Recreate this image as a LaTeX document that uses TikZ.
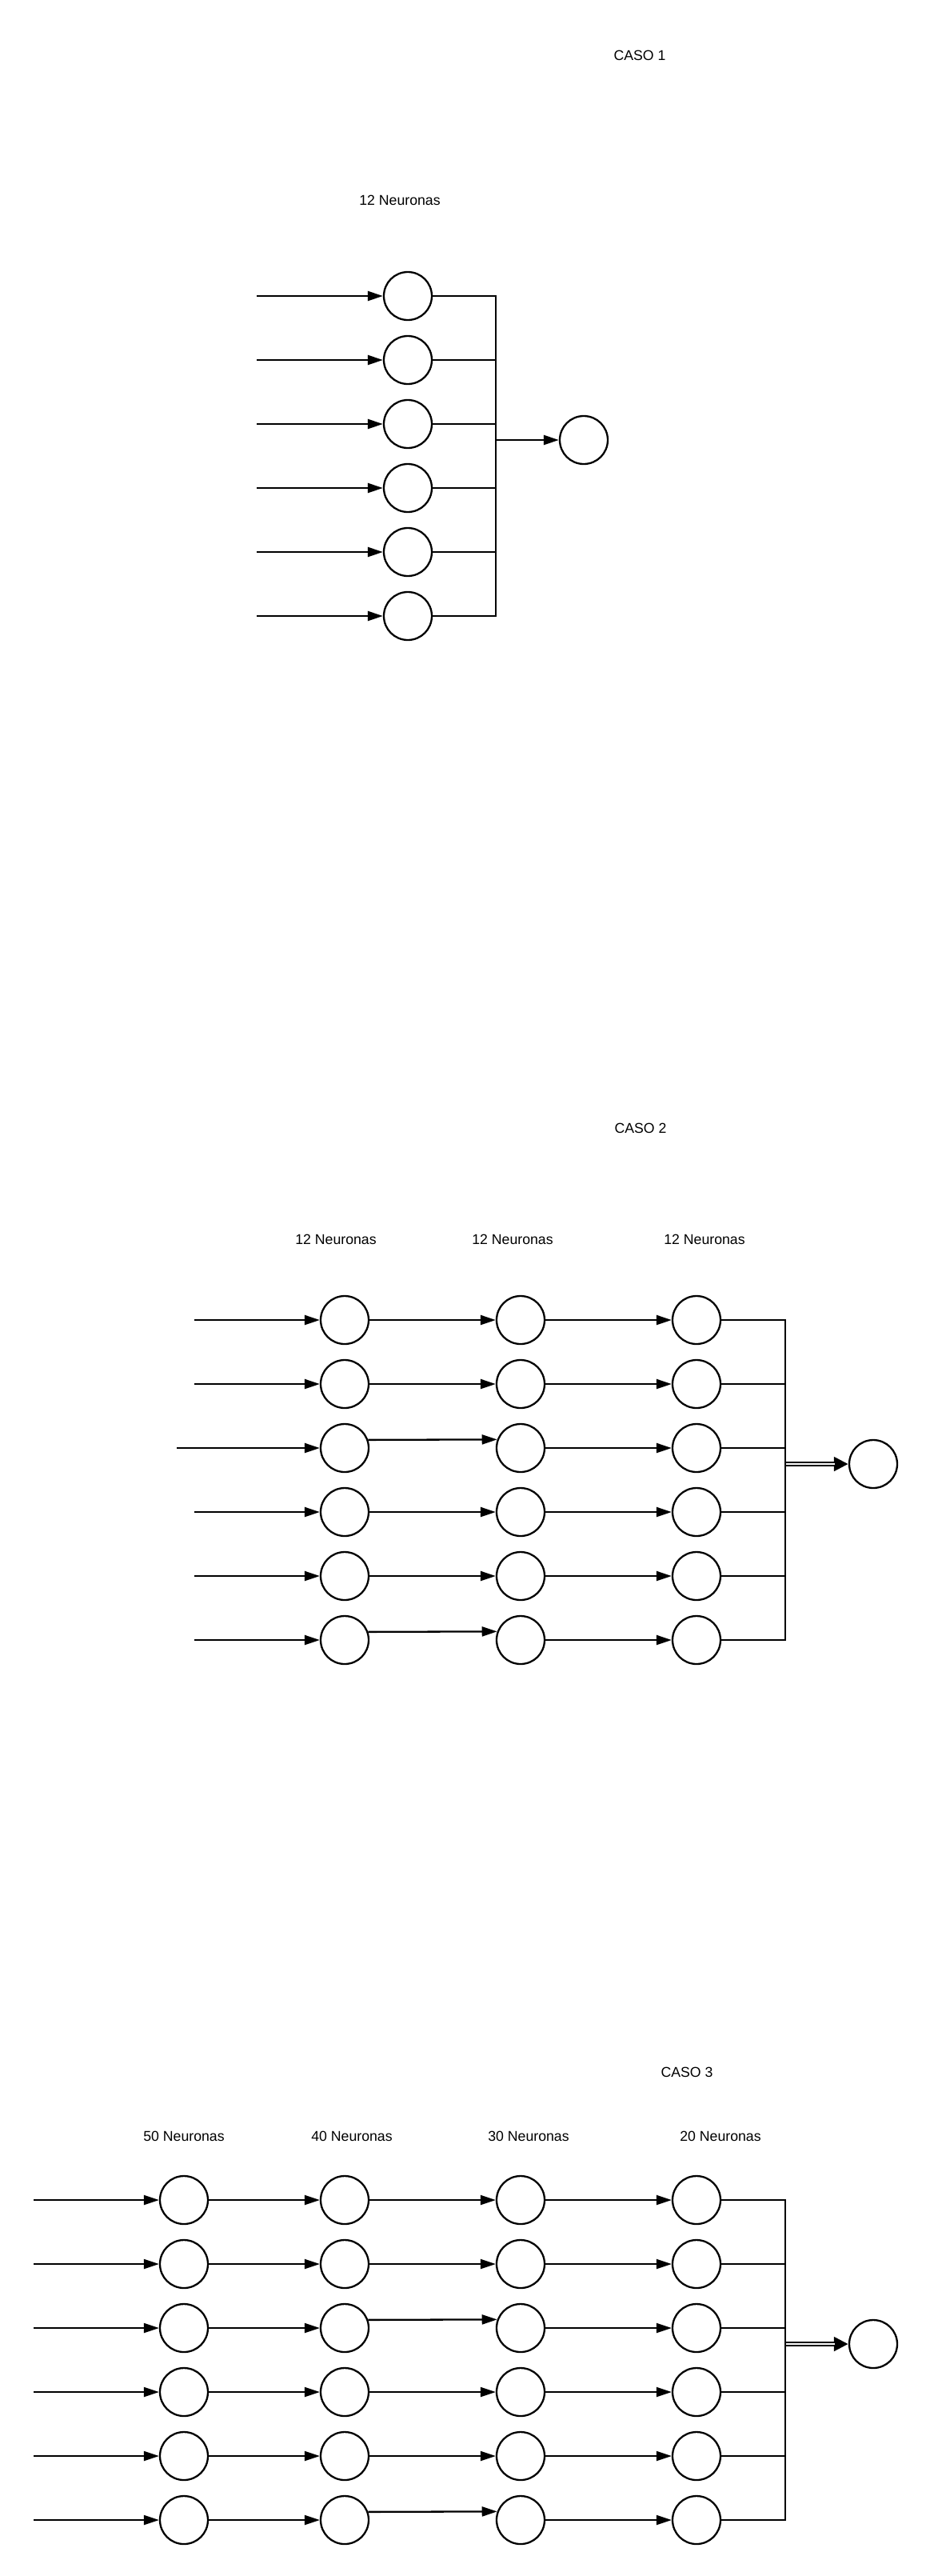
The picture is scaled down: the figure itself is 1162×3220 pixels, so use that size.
\documentclass[tikz,border=0pt]{standalone}
\usepackage{fontspec}
\setmainfont{Liberation Sans}
\usetikzlibrary{arrows.meta}

\tikzset{
  neuron/.style={circle,draw,line width=2.3pt,minimum size=60pt,inner sep=0pt},
  caption/.style={font=\fontsize{17.7}{21}\selectfont},
  wire/.style={line width=2.3pt},
  dbl/.style={line width=6pt,-{Triangle[length=18pt,width=17pt]}},
  gap/.style={draw=white,line width=1.2pt,shorten <=1.2pt,shorten >=17pt},
}

\begin{document}
\begin{tikzpicture}[x=1pt,y=-1pt,>={Triangle[length=19pt,width=12pt]}]
  \useasboundingbox (0,0) rectangle (1162,3220);

  % CASO 1
  \node[caption] (c1) at (800,69) {CASO 1};
  \node[caption] (h1) at (500,250) {12 Neuronas};
  \begin{scope}[every node/.style=neuron]
    \foreach \r/\y in {1/370,2/450,3/530,4/610,5/690,6/770}
      \node (a\r) at (510,\y) {};
    \node (ao) at (730,550) {};
  \end{scope}
  \foreach \r/\y in {1/370,2/450,3/530,4/610,5/690,6/770}
    \coordinate (ai\r) at (321,\y);
  \coordinate (ab) at (620,770);
  \coordinate (aj) at (620,550);

  \begin{scope}[wire]
    \foreach \r in {1,...,6}
      \path [->] (ai\r) edge (a\r);
    \draw (a1.east) -| (ab) -- (a6.east);
    \foreach \r in {2,...,5}
      \draw (a\r.east) -- (a\r.east -| ab);
    \path [->] (aj) edge (ao);
  \end{scope}

  % CASO 2
  \node[caption] (c2) at (801,1410) {CASO 2};
  \node[caption] (h21) at (420,1549) {12 Neuronas};
  \node[caption] (h22) at (641,1549) {12 Neuronas};
  \node[caption] (h23) at (881,1549) {12 Neuronas};
  \begin{scope}[every node/.style=neuron]
    \foreach \c/\x in {1/431,2/651,3/871}
      \foreach \r/\y in {1/1650,2/1730,3/1810,4/1890,5/1970,6/2050}
        \node (b\c\r) at (\x,\y) {};
    \node (bo) at (1092,1830) {};
  \end{scope}
  \foreach \r/\y in {1/1650,2/1730,4/1890,5/1970,6/2050}
    \coordinate (bi\r) at (243,\y);
  \coordinate (bi3) at (221,1810);
  \coordinate (bb) at (982,2050);
  \coordinate (bj) at (982,1830);

  \begin{scope}[wire]
    \foreach \r in {1,...,6}
      \path [->] (bi\r) edge (b1\r);
    \foreach \r in {1,2,4,5}
      \path [->] (b1\r) edge (b2\r);
    \foreach \r in {3,6}
      \path [->] (b1\r.19.47) edge (b2\r.160.53);
    \foreach \r in {1,...,6}
      \path [->] (b2\r) edge (b3\r);
    \draw (b31.east) -| (bb) -- (b36.east);
    \foreach \r in {2,...,5}
      \draw (b3\r.east) -- (b3\r.east -| bb);
  \end{scope}
  \path [dbl] (bj) edge (bo);
  \path [gap] (bj) edge (bo);

  % CASO 3
  \node[caption] (c3) at (859,2590) {CASO 3};
  \node[caption] (h31) at (230,2670) {50 Neuronas};
  \node[caption] (h32) at (440,2670) {40 Neuronas};
  \node[caption] (h33) at (661,2670) {30 Neuronas};
  \node[caption] (h34) at (901,2670) {20 Neuronas};
  \begin{scope}[every node/.style=neuron]
    \foreach \c/\x in {1/230,2/431,3/651,4/871}
      \foreach \r/\y in {1/2750,2/2830,3/2910,4/2990,5/3070,6/3150}
        \node (d\c\r) at (\x,\y) {};
    \node (do) at (1092,2930) {};
  \end{scope}
  \foreach \r/\y in {1/2750,2/2830,3/2910,4/2990,5/3070,6/3150}
    \coordinate (di\r) at (42,\y);
  \coordinate (db) at (982,3150);
  \coordinate (dj) at (982,2930);

  \begin{scope}[wire]
    \foreach \r in {1,...,6}
      \path [->] (di\r) edge (d1\r);
    \foreach \r in {1,...,6}
      \path [->] (d1\r) edge (d2\r);
    \foreach \r in {1,2,4,5}
      \path [->] (d2\r) edge (d3\r);
    \foreach \r in {3,6}
      \path [->] (d2\r.19.47) edge (d3\r.160.53);
    \foreach \r in {1,...,6}
      \path [->] (d3\r) edge (d4\r);
    \draw (d41.east) -| (db) -- (d46.east);
    \foreach \r in {2,...,5}
      \draw (d4\r.east) -- (d4\r.east -| db);
  \end{scope}
  \path [dbl] (dj) edge (do);
  \path [gap] (dj) edge (do);
\end{tikzpicture}
\end{document}
